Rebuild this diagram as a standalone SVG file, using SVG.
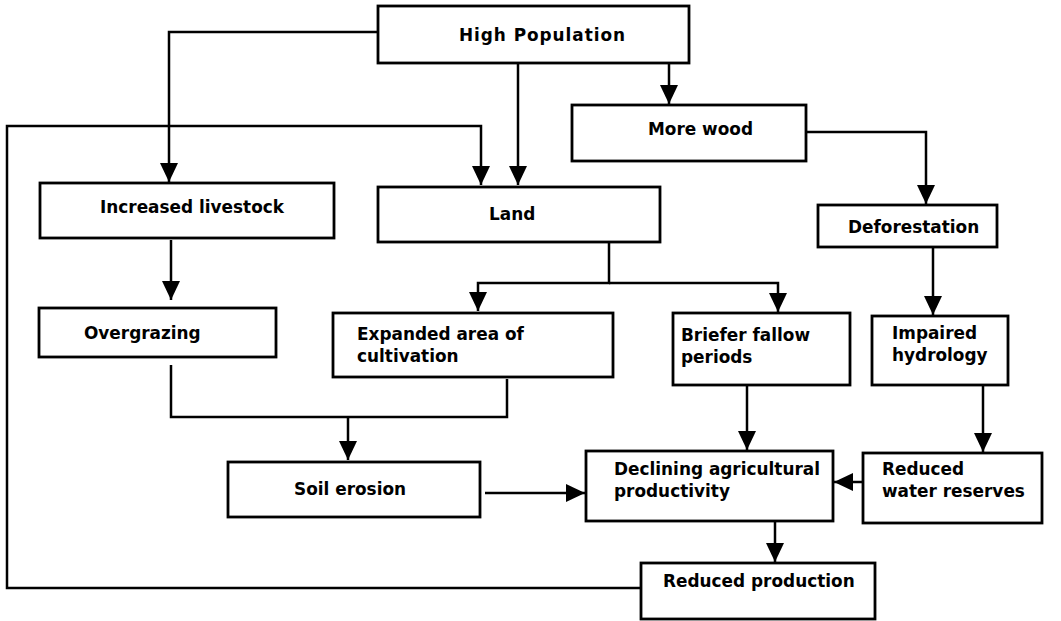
<svg xmlns="http://www.w3.org/2000/svg" width="1061" height="621" viewBox="0 0 1061 621">
<style>
.box{fill:#fff;stroke:#000;stroke-width:2.8}
.t{font-family:"DejaVu Sans",Verdana,sans-serif;font-weight:bold;font-size:16.9px;fill:#000}
.c{fill:none;stroke:#000;stroke-width:2.5}
</style>
<defs>
<marker id="ah" markerUnits="userSpaceOnUse" markerWidth="20" markerHeight="18" viewBox="0 0 20 18" refX="19" refY="9" orient="auto">
<path d="M0,0 L19,9 L0,18 Z" fill="#000"/>
</marker>
</defs>
<rect width="1061" height="621" fill="#fff"/>
<g id="connectors">
<path class="c" d="M378,32 H169 V182" marker-end="url(#ah)"/>
<path class="c" d="M518,63 V185" marker-end="url(#ah)"/>
<path class="c" d="M669,63 V104" marker-end="url(#ah)"/>
<path class="c" d="M806,132 H926 V204" marker-end="url(#ah)"/>
<path class="c" d="M171,240 V300" marker-end="url(#ah)"/>
<path class="c" d="M609,242 V283 H478 V311" marker-end="url(#ah)"/>
<path class="c" d="M609,283 H778 V312" marker-end="url(#ah)"/>
<path class="c" d="M933,247 V315" marker-end="url(#ah)"/>
<path class="c" d="M171,365 V417 H507 V379"/>
<path class="c" d="M348,417 V460" marker-end="url(#ah)"/>
<path class="c" d="M747,385 V450" marker-end="url(#ah)"/>
<path class="c" d="M983,385 V452" marker-end="url(#ah)"/>
<path class="c" d="M485,493 H585" marker-end="url(#ah)"/>
<path class="c" d="M863,482 H834" marker-end="url(#ah)"/>
<path class="c" d="M775,521 V562" marker-end="url(#ah)"/>
<path class="c" d="M641,588 H7 V126 H481 V185" marker-end="url(#ah)"/>
</g>
<g id="n-high-population">
<rect class="box" x="378" y="6" width="311" height="57"/>
<text class="t" x="459" y="41" textLength="166">High Population</text>
</g>
<g id="n-more-wood">
<rect class="box" x="572" y="105" width="234" height="56"/>
<text class="t" x="648" y="135">More wood</text>
</g>
<g id="n-increased-livestock">
<rect class="box" x="40" y="183" width="294" height="55"/>
<text class="t" x="100" y="213">Increased livestock</text>
</g>
<g id="n-land">
<rect class="box" x="378" y="187" width="282" height="55"/>
<text class="t" x="489" y="220">Land</text>
</g>
<g id="n-deforestation">
<rect class="box" x="818" y="205" width="179" height="42"/>
<text class="t" x="848" y="233">Deforestation</text>
</g>
<g id="n-overgrazing">
<rect class="box" x="39" y="308" width="237" height="49"/>
<text class="t" x="84" y="339">Overgrazing</text>
</g>
<g id="n-expanded">
<rect class="box" x="333" y="313" width="280" height="64"/>
<text class="t" x="357" y="340">Expanded area of</text>
<text class="t" x="357" y="362">cultivation</text>
</g>
<g id="n-briefer">
<rect class="box" x="673" y="313" width="177" height="72"/>
<text class="t" x="681" y="341">Briefer fallow</text>
<text class="t" x="681" y="363">periods</text>
</g>
<g id="n-impaired">
<rect class="box" x="872" y="316" width="136" height="69"/>
<text class="t" x="892" y="339">Impaired</text>
<text class="t" x="892" y="361">hydrology</text>
</g>
<g id="n-soil-erosion">
<rect class="box" x="228" y="462" width="252" height="55"/>
<text class="t" x="294" y="495">Soil erosion</text>
</g>
<g id="n-declining">
<rect class="box" x="586" y="451" width="247" height="70"/>
<text class="t" x="614" y="475">Declining agricultural</text>
<text class="t" x="614" y="497">productivity</text>
</g>
<g id="n-reduced-water">
<rect class="box" x="863" y="453" width="179" height="70"/>
<text class="t" x="882" y="475">Reduced</text>
<text class="t" x="882" y="497">water reserves</text>
</g>
<g id="n-reduced-production">
<rect class="box" x="641" y="563" width="234" height="56"/>
<text class="t" x="663" y="587">Reduced production</text>
</g>
</svg>
